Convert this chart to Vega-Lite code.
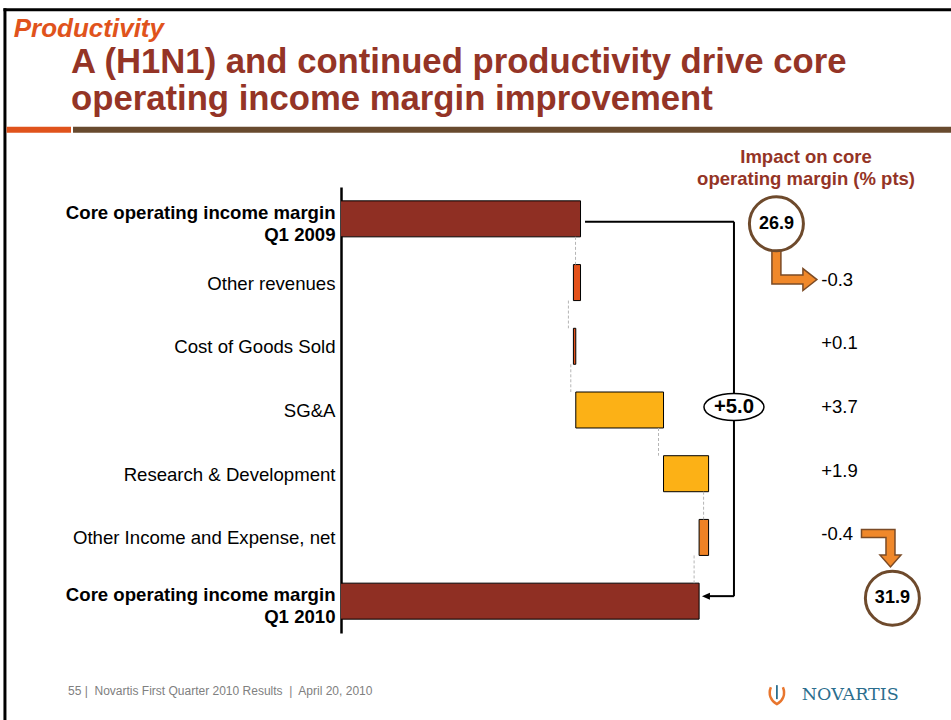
{
  "$schema": "https://vega.github.io/schema/vega-lite/v6.json",
  "width": 600,
  "height": 446,
  "autosize": {"type": "none"},
  "padding": {"left": 341, "top": 187, "right": 10, "bottom": 87},
  "background": "white",
  "config": {
    "view": {"stroke": null},
    "font": "Liberation Sans",
    "locale": {"number": {"decimal": ".", "thousands": ",", "grouping": [3], "currency": ["$", ""], "minus": "-"}}
  },
  "title": {
    "text": ["A (H1N1) and continued productivity drive core", "operating income margin improvement"],
    "anchor": "start",
    "frame": "group",
    "font": "Liberation Sans",
    "fontSize": 34.7,
    "fontWeight": "bold",
    "color": "#943426",
    "lineHeight": 37,
    "dx": -270,
    "dy": 110,
    "offset": 0
  },
  "data": {
    "values": [
      {"category": "Core operating income margin Q1 2009", "start": 0, "end": 26.9, "change": null},
      {"category": "Other revenues", "start": 26.9, "end": 26.6, "change": -0.3},
      {"category": "Cost of Goods Sold", "start": 26.6, "end": 26.7, "change": 0.1},
      {"category": "SG&A", "start": 26.7, "end": 30.4, "change": 3.7},
      {"category": "Research & Development", "start": 30.4, "end": 32.3, "change": 1.9},
      {"category": "Other Income and Expense, net", "start": 32.3, "end": 31.9, "change": -0.4},
      {"category": "Core operating income margin Q1 2010", "start": 0, "end": 31.9, "change": null}
    ]
  },
  "layer": [
    {
      "mark": {"type": "bar", "stroke": "#000000", "strokeWidth": 1, "clip": true},
      "encoding": {
        "x": {"field": "start", "type": "quantitative", "scale": {"domain": [16.8, 42.1], "nice": false, "zero": false}, "axis": null},
        "x2": {"field": "end"},
        "y": {
          "field": "category",
          "type": "nominal",
          "sort": null,
          "scale": {
            "domain": ["Core operating income margin Q1 2009", "Other revenues", "Cost of Goods Sold", "SG&A", "Research & Development", "Other Income and Expense, net", "Core operating income margin Q1 2010"],
            "paddingInner": 0.435,
            "paddingOuter": 0.2175
          },
          "axis": {
            "title": null,
            "orient": "left",
            "domain": true,
            "domainColor": "#000000",
            "domainWidth": 2.5,
            "ticks": false,
            "grid": false,
            "labelPadding": 6,
            "labelFont": "Liberation Sans",
            "labelFontSize": 18.6,
            "labelColor": "#000000",
            "labelLimit": 400,
            "labelLineHeight": 22,
            "labelOffset": {"condition": {"test": "indexof(datum.value, ' Q1 ') > 0", "value": -6}, "value": 1},
            "labelFontWeight": {"condition": {"test": "indexof(datum.value, ' Q1 ') > 0", "value": "bold"}, "value": "normal"},
            "labelExpr": "indexof(datum.label, ' Q1 ') > 0 ? [slice(datum.label, 0, indexof(datum.label, ' Q1 ')), slice(datum.label, indexof(datum.label, ' Q1 ') + 1)] : datum.label"
          }
        },
        "color": {
          "field": "category",
          "type": "nominal",
          "scale": {
            "domain": ["Core operating income margin Q1 2009", "Other revenues", "Cost of Goods Sold", "SG&A", "Research & Development", "Other Income and Expense, net", "Core operating income margin Q1 2010"],
            "range": ["#8f2f23", "#e4521b", "#e4521b", "#fcb116", "#fcb116", "#ef8225", "#8f2f23"]
          },
          "legend": null
        }
      }
    },
    {
      "transform": [
        {"window": [{"op": "lead", "field": "category", "as": "next"}]},
        {"filter": "datum.next != null"}
      ],
      "mark": {"type": "rule", "color": "#b5b5b5", "strokeWidth": 1, "strokeDash": [3, 2], "xOffset": -5, "yOffset": 18, "y2Offset": -18},
      "encoding": {
        "x": {"field": "end", "type": "quantitative", "axis": null},
        "y": {"field": "category", "type": "nominal"},
        "y2": {"field": "next"}
      }
    },
    {
      "data": {"values": [{}]},
      "mark": {"type": "rule", "color": "#000000", "strokeWidth": 3, "yOffset": -209, "strokeCap": "square"},
      "encoding": {
        "x": {"datum": 2.63, "type": "quantitative", "axis": null},
        "x2": {"datum": 43},
        "y": {"datum": "Core operating income margin Q1 2009", "type": "nominal"}
      }
    },
    {
      "data": {"values": [{}]},
      "mark": {"type": "rule", "color": "#000000", "strokeWidth": 3, "yOffset": -209, "y2Offset": 121, "strokeCap": "square"},
      "encoding": {
        "x": {"datum": 2.63, "type": "quantitative", "axis": null},
        "y": {"datum": "Core operating income margin Q1 2009", "type": "nominal"},
        "y2": {"datum": "Core operating income margin Q1 2010"}
      }
    },
    {
      "data": {"values": [{}]},
      "mark": {"type": "rule", "color": "#e0531c", "strokeWidth": 6, "yOffset": -89},
      "encoding": {
        "x": {"datum": 2.7, "type": "quantitative", "axis": null},
        "x2": {"datum": 5.415},
        "y": {"datum": "Core operating income margin Q1 2009", "type": "nominal"}
      }
    },
    {
      "data": {"values": [{}]},
      "mark": {"type": "rule", "color": "#684a2e", "strokeWidth": 6, "yOffset": -89},
      "encoding": {
        "x": {"datum": 5.5, "type": "quantitative", "axis": null},
        "x2": {"datum": 43},
        "y": {"datum": "Core operating income margin Q1 2009", "type": "nominal"}
      }
    },
    {
      "data": {"values": [{}]},
      "mark": {"type": "rule", "color": "#000000", "strokeWidth": 2, "yOffset": 3},
      "encoding": {
        "x": {"datum": 27.09, "type": "quantitative", "axis": null},
        "x2": {"datum": 33.37},
        "y": {"datum": "Core operating income margin Q1 2009", "type": "nominal"}
      }
    },
    {
      "data": {"values": [{}]},
      "mark": {"type": "rule", "color": "#000000", "strokeWidth": 2, "yOffset": 3, "y2Offset": -5},
      "encoding": {
        "x": {"datum": 33.37, "type": "quantitative", "axis": null},
        "y": {"datum": "Core operating income margin Q1 2009", "type": "nominal"},
        "y2": {"datum": "Core operating income margin Q1 2010"}
      }
    },
    {
      "data": {"values": [{}]},
      "mark": {"type": "rule", "color": "#000000", "strokeWidth": 2, "yOffset": -5},
      "encoding": {
        "x": {"datum": 32.28, "type": "quantitative", "axis": null},
        "x2": {"datum": 33.37},
        "y": {"datum": "Core operating income margin Q1 2010", "type": "nominal"}
      }
    },
    {
      "data": {"values": [{}]},
      "mark": {"type": "point", "shape": "M0,0L8,-3.5L8,3.5Z", "size": 4, "filled": true, "fill": "#000000", "strokeWidth": 0, "opacity": 1, "yOffset": -5},
      "encoding": {
        "x": {"datum": 32.02, "type": "quantitative", "axis": null},
        "y": {"datum": "Core operating income margin Q1 2010", "type": "nominal"}
      }
    },
    {
      "data": {"values": [{}]},
      "mark": {"type": "point", "shape": "M-30,0A30,13.5 0 1,1 30,0A30,13.5 0 1,1 -30,0Z", "size": 4, "filled": true, "fill": "#ffffff", "stroke": "#000000", "strokeWidth": 1.5, "opacity": 1, "yOffset": -3},
      "encoding": {
        "x": {"datum": 33.37, "type": "quantitative", "axis": null},
        "y": {"datum": "SG&A", "type": "nominal"}
      }
    },
    {
      "transform": [{"aggregate": [{"op": "sum", "field": "change", "as": "total"}]}],
      "mark": {"type": "text", "font": "Liberation Sans", "fontSize": 20.3, "fontWeight": "bold", "color": "#000000", "align": "center", "baseline": "middle", "dy": -3},
      "encoding": {
        "x": {"datum": 33.37, "type": "quantitative", "axis": null},
        "y": {"datum": "SG&A", "type": "nominal"},
        "text": {"field": "total", "type": "quantitative", "format": "+.1f"}
      }
    },
    {
      "data": {"values": [{}]},
      "mark": {"type": "point", "shape": "M-4.5,-35L4.5,-35L4.5,-4.5L26.5,-4.5L26.5,-11L40.5,0L26.5,11L26.5,4.5L-4.5,4.5Z", "size": 4, "filled": true, "fill": "#f0882a", "stroke": "#7b4b26", "strokeWidth": 1.5, "opacity": 1, "yOffset": -3},
      "encoding": {
        "x": {"datum": 35.16, "type": "quantitative", "axis": null},
        "y": {"datum": "Other revenues", "type": "nominal"}
      }
    },
    {
      "data": {"values": [{}]},
      "mark": {"type": "point", "shape": "M-29,-4L4.5,-4L4.5,21.5L10.5,21.5L0,33.5L-10.5,21.5L-4.5,21.5L-4.5,4L-29,4Z", "size": 4, "filled": true, "fill": "#f0882a", "stroke": "#7b4b26", "strokeWidth": 1.5, "opacity": 1, "yOffset": -4},
      "encoding": {
        "x": {"datum": 39.97, "type": "quantitative", "axis": null},
        "y": {"datum": "Other Income and Expense, net", "type": "nominal"}
      }
    },
    {
      "data": {"values": [{}]},
      "mark": {"type": "point", "shape": "circle", "size": 2916, "filled": true, "fill": "#ffffff", "stroke": "#6e4a2c", "strokeWidth": 3, "opacity": 1, "yOffset": 5},
      "encoding": {
        "x": {"datum": 35.16, "type": "quantitative", "axis": null},
        "y": {"datum": "Core operating income margin Q1 2009", "type": "nominal"}
      }
    },
    {
      "transform": [{"filter": "datum.category == 'Core operating income margin Q1 2009'"}],
      "mark": {"type": "text", "font": "Liberation Sans", "fontSize": 18, "fontWeight": "bold", "color": "#000000", "align": "center", "baseline": "middle", "dy": 5},
      "encoding": {
        "x": {"datum": 35.16, "type": "quantitative", "axis": null},
        "y": {"field": "category", "type": "nominal"},
        "text": {"field": "end", "type": "quantitative", "format": ".1f"}
      }
    },
    {
      "data": {"values": [{}]},
      "mark": {"type": "point", "shape": "circle", "size": 2916, "filled": true, "fill": "#ffffff", "stroke": "#6e4a2c", "strokeWidth": 3, "opacity": 1, "yOffset": -3},
      "encoding": {
        "x": {"datum": 40.05, "type": "quantitative", "axis": null},
        "y": {"datum": "Core operating income margin Q1 2010", "type": "nominal"}
      }
    },
    {
      "transform": [{"filter": "datum.category == 'Core operating income margin Q1 2010'"}],
      "mark": {"type": "text", "font": "Liberation Sans", "fontSize": 18, "fontWeight": "bold", "color": "#000000", "align": "center", "baseline": "middle", "dy": -3},
      "encoding": {
        "x": {"datum": 40.05, "type": "quantitative", "axis": null},
        "y": {"field": "category", "type": "nominal"},
        "text": {"field": "end", "type": "quantitative", "format": ".1f"}
      }
    },
    {
      "transform": [{"filter": "datum.change != null"}],
      "mark": {"type": "text", "font": "Liberation Sans", "fontSize": 18.5, "color": "#000000", "align": "left", "baseline": "middle", "dy": -3},
      "encoding": {
        "x": {"datum": 37.05, "type": "quantitative", "axis": null},
        "y": {"field": "category", "type": "nominal"},
        "text": {"field": "change", "type": "quantitative", "format": "+.1f"}
      }
    },
    {
      "data": {"values": [{}]},
      "mark": {"type": "text", "text": "Productivity", "font": "Liberation Sans", "fontSize": 26, "fontWeight": "bold", "fontStyle": "italic", "color": "#e0531c", "align": "left", "baseline": "alphabetic", "dy": -182},
      "encoding": {
        "x": {"datum": 3.0, "type": "quantitative", "axis": null},
        "y": {"datum": "Core operating income margin Q1 2009", "type": "nominal"}
      }
    },
    {
      "data": {"values": [{}]},
      "mark": {"type": "text", "text": ["Impact on core", "operating margin (% pts)"], "font": "Liberation Sans", "fontSize": 18.5, "fontWeight": "bold", "color": "#943426", "align": "center", "baseline": "middle", "lineHeight": 21.7, "dy": -62},
      "encoding": {
        "x": {"datum": 36.41, "type": "quantitative", "axis": null},
        "y": {"datum": "Core operating income margin Q1 2009", "type": "nominal"}
      }
    },
    {
      "data": {"values": [{}]},
      "mark": {"type": "text", "text": "55 |\u00a0 Novartis First Quarter 2010 Results \u00a0|\u00a0 April 20, 2010", "font": "Liberation Sans", "fontSize": 12, "color": "#808080", "align": "left", "baseline": "middle", "dy": 90},
      "encoding": {
        "x": {"datum": 5.29, "type": "quantitative", "axis": null},
        "y": {"datum": "Core operating income margin Q1 2010", "type": "nominal"}
      }
    },
    {
      "data": {"values": [{}]},
      "mark": {"type": "text", "text": "NOVARTIS", "font": "DejaVu Serif", "fontSize": 17.5, "color": "#2b6e8e", "align": "left", "baseline": "middle", "dy": 93.4},
      "encoding": {
        "x": {"datum": 36.23, "type": "quantitative", "axis": null},
        "y": {"datum": "Core operating income margin Q1 2010", "type": "nominal"}
      }
    },
    {
      "data": {"values": [{}]},
      "mark": {"type": "point", "shape": "M-6,-8C-9,-1 -6,6 0,9C6,6 9,-1 6,-8", "size": 4, "filled": false, "stroke": "#e8762e", "strokeWidth": 2.5, "opacity": 1, "yOffset": 94},
      "encoding": {
        "x": {"datum": 35.18, "type": "quantitative", "axis": null},
        "y": {"datum": "Core operating income margin Q1 2010", "type": "nominal"}
      }
    },
    {
      "data": {"values": [{}]},
      "mark": {"type": "point", "shape": "M0,-10L0,4", "size": 4, "filled": false, "stroke": "#2b6e8e", "strokeWidth": 1.8, "opacity": 1, "yOffset": 94},
      "encoding": {
        "x": {"datum": 35.18, "type": "quantitative", "axis": null},
        "y": {"datum": "Core operating income margin Q1 2010", "type": "nominal"}
      }
    }
  ]
}
